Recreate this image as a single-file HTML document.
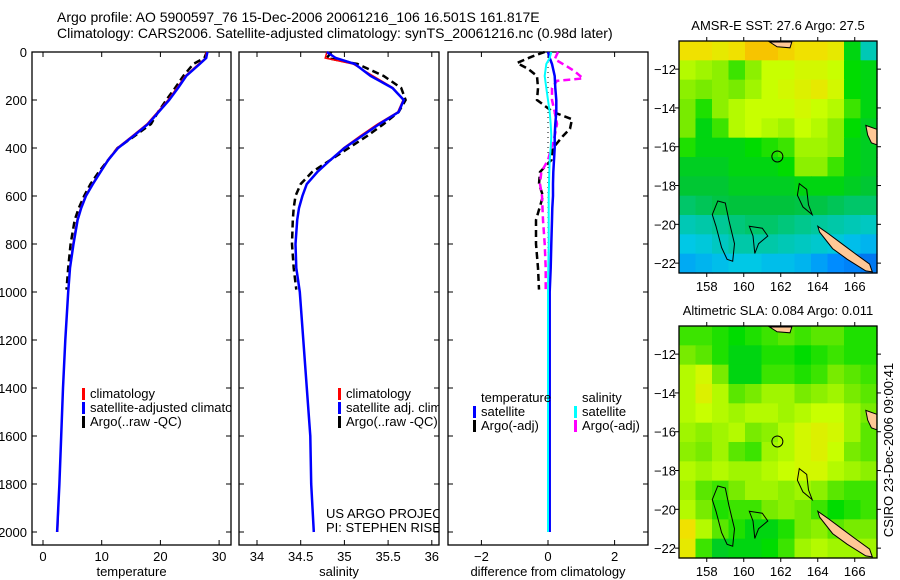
<!DOCTYPE html>
<html><head><meta charset="utf-8"><style>
body{margin:0;background:#fff;}
svg{display:block;font-family:"Liberation Sans",sans-serif;}
text{fill:#000;}
</style></head><body>
<svg id="fig" width="900" height="580" viewBox="0 0 900 580" xmlns="http://www.w3.org/2000/svg">
<defs>
<clipPath id="c1"><rect x="32" y="52" width="199" height="493"/></clipPath>
<clipPath id="c2"><rect x="239" y="52" width="200" height="493"/></clipPath>
</defs>
<text x="57" y="22" font-size="14">Argo profile: AO 5900597_76 15-Dec-2006 20061216_106 16.501S 161.817E</text>
<text x="57" y="38" font-size="14">Climatology: CARS2006. Satellite-adjusted climatology: synTS_20061216.nc (0.98d later)</text>
<g id="p1"></g>
<g id="p2"></g>
<g id="p3"></g>
<g id="m1"></g>
<g id="m2"></g>
<text transform="translate(893,450) rotate(-90)" text-anchor="middle" font-size="13">CSIRO 23-Dec-2006 09:00:41</text>
</svg>
<script>
// ---- profile data ----
const depths = [0,25,50,100,150,200,250,300,350,400,450,500,550,600,650,700,800,900,1000,1200,1400,1600,1800,2000];
const tempClim = [27.8,27.7,26.5,24.2,22.8,21.3,19.5,17.7,15.2,12.6,11,9.7,8.4,7.2,6.4,5.8,5.1,4.6,4.3,3.8,3.4,3.1,2.8,2.5];
const tempSat  = [28.0,27.8,26.7,24.4,23.0,21.5,19.7,17.9,15.4,12.8,11.1,9.8,8.5,7.3,6.5,5.9,5.2,4.6,4.3,3.8,3.4,3.1,2.8,2.4];
const argoDepths = [0,25,50,100,150,200,250,300,350,400,450,500,550,600,650,700,800,900,990];
const tempArgo = [27.9,27.5,25.6,23.9,22.5,21.0,19.6,18.4,15.6,12.7,11.1,9.5,8.1,7.0,6.1,5.4,4.7,4.3,4.0];
const salClim = [34.80,34.78,35.10,35.33,35.56,35.67,35.61,35.38,35.18,34.99,34.84,34.69,34.57,34.52,34.48,34.46,34.44,34.45,34.49,34.53,34.57,34.61,34.62,34.65];
const salSat  = [34.80,34.90,35.12,35.30,35.55,35.68,35.62,35.40,35.20,35.00,34.84,34.69,34.57,34.52,34.48,34.46,34.44,34.45,34.49,34.53,34.57,34.61,34.62,34.65];
const salArgo = [34.85,34.80,35.15,35.45,35.65,35.70,35.62,35.45,35.26,35.05,34.84,34.63,34.50,34.44,34.42,34.41,34.40,34.42,34.45];
const diffTempSat = [0.0,0.05,0.12,0.2,0.22,0.25,0.25,0.22,0.2,0.2,0.18,0.16,0.15,0.15,0.13,0.12,0.1,0.08,0.05,0.05,0.05,0.05,0.05,0.05];
const diffSalSat  = [0.1,0.05,-0.05,-0.1,-0.05,0.0,0.05,0.08,0.1,0.08,0.05,0.04,0.03,0.02,0.02,0.02,0.02,0.01,0.0,0.0,0.0,0.0,0.0,0.0];
const diffTempArgoDepths = [0,20,46,70,100,150,200,250,280,320,350,400,450,500,550,600,700,800,900,990];
const diffTempArgo = [-0.1,-0.5,-0.93,-0.6,-0.33,-0.3,-0.33,0.15,0.72,0.66,0.45,0.15,0.1,-0.24,-0.27,-0.15,-0.36,-0.36,-0.3,-0.27];
const diffSalArgoDepths = [0,30,60,80,110,120,150,200,250,300,350,400,450,500,550,600,700,800,900,1000];
const diffSalArgo = [0.3,0.2,0.57,0.8,1.05,0.27,0.12,0.12,0.2,0.27,0.2,0.1,0.0,-0.2,-0.24,-0.18,-0.15,-0.1,-0.07,-0.07];
const depthTicks = [0,200,400,600,800,1000,1200,1400,1600,1800,2000];
const tempTicks = [0,10,20,30];
const salTicks = [34,34.5,35,35.5,36];
const salTickLabels = ["34","34.5","35","35.5","36"];
const diffTicks = [-2,0,2];
const diffTickLabels = ["\u22122","0","2"];
// ---- map data ----
const lonTicks = [158,160,162,164,166];
const latTicks = [-12,-14,-16,-18,-20,-22];
const sstGrid = [
[0.86,0.86,0.84,0.86,0.9,0.9,0.88,0.86,0.86,0.84,0.6,0.4],
[0.76,0.74,0.72,0.66,0.72,0.78,0.78,0.8,0.8,0.78,0.62,0.6],
[0.72,0.7,0.72,0.7,0.74,0.78,0.8,0.82,0.84,0.8,0.62,0.6],
[0.7,0.64,0.72,0.76,0.78,0.78,0.78,0.8,0.78,0.76,0.66,0.6],
[0.7,0.6,0.66,0.76,0.78,0.76,0.74,0.78,0.76,0.72,0.62,0.58],
[0.64,0.6,0.6,0.6,0.62,0.64,0.66,0.74,0.74,0.72,0.6,0.58],
[0.58,0.58,0.58,0.6,0.6,0.6,0.62,0.72,0.72,0.66,0.6,0.58],
[0.56,0.56,0.56,0.58,0.58,0.58,0.58,0.6,0.6,0.6,0.58,0.56],
[0.5,0.52,0.54,0.55,0.55,0.55,0.55,0.54,0.54,0.52,0.5,0.5],
[0.4,0.42,0.45,0.48,0.5,0.5,0.48,0.46,0.44,0.42,0.4,0.38],
[0.32,0.34,0.38,0.42,0.42,0.42,0.4,0.38,0.36,0.34,0.3,0.28],
[0.26,0.28,0.3,0.32,0.32,0.3,0.3,0.28,0.24,0.2,0.18,0.16]];
const slaGrid = [
[0.66,0.66,0.64,0.62,0.64,0.66,0.68,0.66,0.68,0.68,0.64,0.64],
[0.7,0.68,0.64,0.6,0.6,0.64,0.64,0.62,0.64,0.66,0.64,0.64],
[0.76,0.8,0.7,0.6,0.6,0.66,0.66,0.64,0.66,0.7,0.68,0.66],
[0.76,0.82,0.76,0.68,0.7,0.74,0.74,0.7,0.72,0.74,0.7,0.68],
[0.76,0.78,0.76,0.74,0.76,0.76,0.74,0.76,0.78,0.78,0.74,0.7],
[0.74,0.72,0.74,0.76,0.7,0.72,0.76,0.8,0.82,0.8,0.74,0.68],
[0.72,0.7,0.74,0.68,0.66,0.74,0.76,0.8,0.82,0.78,0.7,0.68],
[0.76,0.74,0.76,0.74,0.74,0.76,0.78,0.8,0.8,0.76,0.74,0.72],
[0.74,0.68,0.66,0.7,0.74,0.74,0.72,0.74,0.72,0.68,0.66,0.66],
[0.76,0.7,0.64,0.66,0.66,0.7,0.72,0.7,0.66,0.62,0.64,0.66],
[0.86,0.76,0.68,0.64,0.6,0.6,0.64,0.7,0.72,0.68,0.7,0.7],
[0.84,0.66,0.58,0.6,0.6,0.62,0.66,0.74,0.76,0.74,0.74,0.74]];
const landNC = [[164,-20.1],[164.6,-20.5],[165.3,-21.0],[166,-21.5],[166.8,-22.05],[166.95,-22.45],[166.6,-22.4],[165.6,-21.8],[164.8,-21.25],[164.1,-20.4]];
const landVan = [[166.6,-14.9],[167.2,-15.1],[167.2,-15.9],[166.9,-15.8],[166.7,-15.4]];
const landTop = [[161.4,-10.6],[162.6,-10.6],[162.5,-10.9],[161.8,-10.85]];
const reef1 = [[158.6,-18.8],[159,-18.9],[159.2,-19.8],[159.5,-21],[159.4,-21.9],[159.1,-21.8],[158.8,-21.2],[158.5,-20.1],[158.3,-19.5]];
const reef2 = [[160.3,-20.1],[161,-20.2],[161.3,-20.6],[160.8,-21],[160.6,-21.5],[160.5,-20.6]];
const reef3 = [[163.0,-17.9],[163.4,-18.2],[163.5,-19.0],[163.7,-19.5],[163.2,-19.1],[162.9,-18.5]];
const floatPos = [161.817,-16.501];

const NS="http://www.w3.org/2000/svg";
function mk(parent,tag,attrs){const e=document.createElementNS(NS,tag);for(const k in attrs)e.setAttribute(k,attrs[k]);parent.appendChild(e);return e;}
const yD = d => 52 + d*0.24;
function drawLine(g,ds,vs,xf,color,w,dash,name){
  const pts = ds.map((d,i)=>xf(vs[i]).toFixed(1)+","+yD(d).toFixed(1)).join(" ");
  const p = mk(g,"polyline",{points:pts,fill:"none",stroke:color,"stroke-width":w});
  if(dash) p.setAttribute("stroke-dasharray",dash);
  
  
}
function panel(g,x0,x1,xf,ticks,labels,xlabel,leftLabels){
  const frame=mk(g,"rect",{x:x0,y:52,width:x1-x0,height:493,fill:"none",stroke:"#000","stroke-width":1.3});
  
  
  depthTicks.forEach(d=>{
    mk(g,"line",{x1:x0,x2:x0+5,y1:yD(d),y2:yD(d),stroke:"#000"});
    mk(g,"line",{x1:x1,x2:x1-5,y1:yD(d),y2:yD(d),stroke:"#000"});
    if(leftLabels){const t=mk(g,"text",{x:x0-5,y:yD(d)+5,"text-anchor":"end","font-size":13});t.textContent=d;
      
      }
  });
  ticks.forEach((v,i)=>{
    const x=xf(v);
    mk(g,"line",{x1:x,x2:x,y1:545,y2:540,stroke:"#000"});
    mk(g,"line",{x1:x,x2:x,y1:52,y2:57,stroke:"#000"});
    const t=mk(g,"text",{x:x,y:561,"text-anchor":"middle","font-size":13});t.textContent=labels[i];
    
    
  });
  const t=mk(g,"text",{x:(x0+x1)/2,y:576,"text-anchor":"middle","font-size":13});t.textContent=xlabel;
  
  
}
function legend(g,x,y,color,label){
  mk(g,"rect",{x:x,y:y-10,width:3,height:12,fill:color});
  const t=mk(g,"text",{x:x+8,y:y,"font-size":13});t.textContent=label;
  
  
}
// Panel 1
const xT=v=>43+v*5.87, g1=document.getElementById("p1");
panel(g1,32,231,xT,tempTicks,tempTicks.map(String),"temperature",true);
drawLine(g1,argoDepths,tempArgo,xT,"#000",2.5,"7,4","temp-argo-line");
drawLine(g1,depths,tempClim,xT,"#f00",1.5,null,"temp-clim-line");
drawLine(g1,depths,tempSat,xT,"#00f",2.5,null,"temp-sat-line");
const lg1=mk(g1,"g",{"clip-path":"url(#c1)"});


legend(lg1,82,398,"#f00","climatology");legend(lg1,82,412,"#00f","satellite-adjusted climatology");legend(lg1,82,426,"#000","Argo(..raw -QC)");
// Panel 2
const xS=v=>257+(v-34)*87.4, g2=document.getElementById("p2");
panel(g2,239,439,xS,salTicks,salTickLabels,"salinity",false);
drawLine(g2,argoDepths,salArgo,xS,"#000",2.5,"7,4","sal-argo-line");
drawLine(g2,depths,salClim,xS,"#f00",1.5,null,"sal-clim-line");
drawLine(g2,depths,salSat,xS,"#00f",2.5,null,"sal-sat-line");
const lg2=mk(g2,"g",{"clip-path":"url(#c2)"});


legend(lg2,338,398,"#f00","climatology");legend(lg2,338,412,"#00f","satellite adj. clim.");legend(lg2,338,426,"#000","Argo(..raw -QC)");
[["US ARGO PROJECT",518],["PI: STEPHEN RISER",532]].forEach(a=>{const t=mk(lg2,"text",{x:326,y:a[1],"font-size":13});t.textContent=a[0];
  
  });
// Panel 3
const xDf=v=>548+v*33.3, g3=document.getElementById("p3");
panel(g3,448,648,xDf,diffTicks,diffTickLabels,"difference from climatology",false);
mk(g3,"line",{x1:548,x2:548,y1:52,y2:532,stroke:"#000","stroke-dasharray":"1,4"});
drawLine(g3,diffTempArgoDepths,diffTempArgo,xDf,"#000",2.5,"7,4","diff-temp-argo-line");
drawLine(g3,diffSalArgoDepths,diffSalArgo,xDf,"#f0f",2.5,"7,4","diff-sal-argo-line");
drawLine(g3,depths,diffTempSat,xDf,"#00f",2.5,null,"diff-temp-sat-line");
drawLine(g3,depths,diffSalSat,xDf,"#0ff",2,null,"diff-sal-sat-line");
[["temperature",481],["salinity",582]].forEach(a=>{const t=mk(g3,"text",{x:a[1],y:402,"font-size":13});t.textContent=a[0];
  
  });
legend(g3,473,416,"#00f","satellite");legend(g3,473,430,"#000","Argo(-adj)");
legend(g3,574,416,"#0ff","satellite");legend(g3,574,430,"#f0f","Argo(-adj)");
// Maps
const cstops=[[0,[0,40,180]],[0.2,[0,140,255]],[0.32,[0,200,230]],[0.45,[0,200,150]],[0.55,[0,195,60]],[0.62,[0,220,0]],[0.7,[120,235,0]],[0.78,[200,255,0]],[0.86,[240,225,0]],[0.95,[255,160,0]],[1,[255,100,0]]];
function cmap(v){for(let i=1;i<cstops.length;i++){if(v<=cstops[i][0]){const a=cstops[i-1],b=cstops[i],f=(v-a[0])/(b[0]-a[0]);const c=a[1].map((x,k)=>Math.round(x+(b[1][k]-x)*f));return "rgb("+c.join(",")+")";}}return "rgb(255,100,0)";}
function drawMap(id,top,title,grid){
  const g=document.getElementById(id), L=679,R=877,H=232;
  const xL=lon=>L+(lon-156.5)*18.5, yL=lat=>top+(-10.55-lat)*19.4;
  const rows=grid.length, cols=grid[0].length, cw=(R-L)/cols, ch=H/rows;
  grid.forEach((row,r)=>row.forEach((v,c)=>{
    const cell=mk(g,"rect",{x:(L+c*cw).toFixed(2),y:(top+r*ch).toFixed(2),width:(cw+0.6).toFixed(2),height:(ch+0.6).toFixed(2),fill:cmap(v)});
    
    
  }));
  const poly=(pts,fill,name)=>{const p=mk(g,"polygon",{points:pts.map(q=>xL(q[0]).toFixed(1)+","+yL(q[1]).toFixed(1)).join(" "),fill:fill,stroke:"#000","stroke-width":1});
    };
  poly(landNC,"#ffc896","new-caledonia");poly(landVan,"#ffc896","vanuatu");poly(landTop,"#ffc896","solomon-island");
  poly(reef1,"none","reef-contour");poly(reef2,"none","reef-contour");poly(reef3,"none","reef-contour");
  const c=mk(g,"circle",{cx:xL(floatPos[0]),cy:yL(floatPos[1]),r:5.5,fill:"none",stroke:"#000","stroke-width":1});
  
  const f=mk(g,"rect",{x:L,y:top,width:R-L,height:H,fill:"none",stroke:"#000","stroke-width":1.3});
  
  lonTicks.forEach(lon=>{const x=xL(lon);mk(g,"line",{x1:x,x2:x,y1:top,y2:top-4,stroke:"#000"});mk(g,"line",{x1:x,x2:x,y1:top+H,y2:top+H+4,stroke:"#000"});
    const t=mk(g,"text",{x:x,y:top+H+18,"text-anchor":"middle","font-size":13});t.textContent=lon;
    });
  latTicks.forEach(lat=>{const y=yL(lat);mk(g,"line",{x1:L,x2:L-4,y1:y,y2:y,stroke:"#000"});mk(g,"line",{x1:R,x2:R+4,y1:y,y2:y,stroke:"#000"});
    const t=mk(g,"text",{x:L-3,y:y+5,"text-anchor":"end","font-size":13});t.textContent="\u2212"+(-lat);
    });
  const t=mk(g,"text",{x:(L+R)/2,y:top-11,"text-anchor":"middle","font-size":13});t.textContent=title;
  
}
drawMap("m1",41,"AMSR-E SST: 27.6 Argo: 27.5",sstGrid);
drawMap("m2",326,"Altimetric SLA: 0.084 Argo: 0.011",slaGrid);
</script>
</body></html>
